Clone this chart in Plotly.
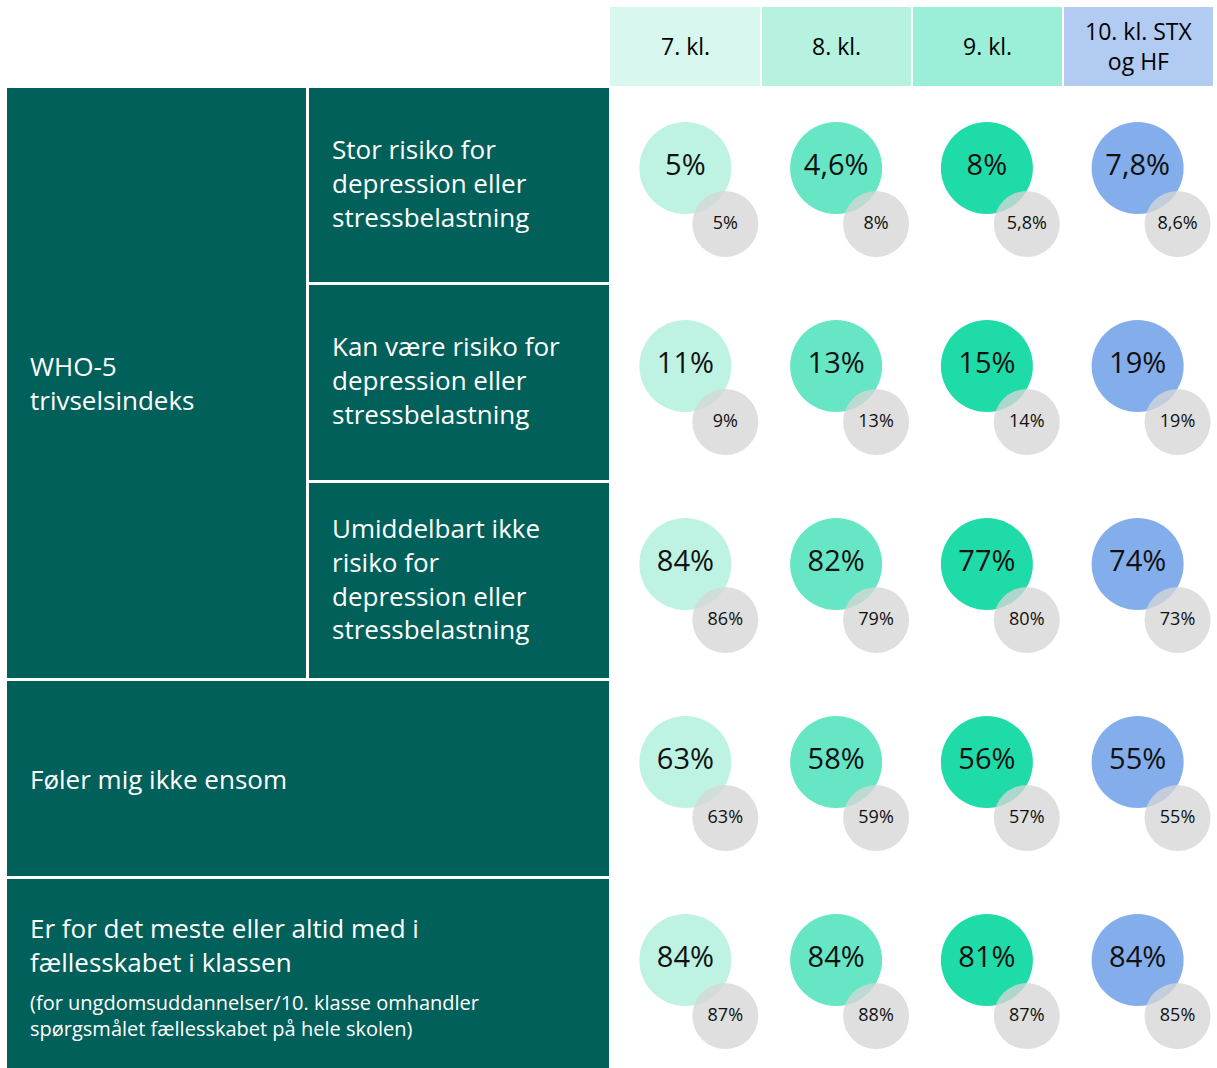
import plotly.graph_objects as go

# ---------- data ----------
grades = ["7. kl.", "8. kl.", "9. kl.", "10. kl. STX<br>og HF"]
row_labels = [
    "Stor risiko for<br>depression eller<br>stressbelastning",
    "Kan være risiko for<br>depression eller<br>stressbelastning",
    "Umiddelbart ikke<br>risiko for<br>depression eller<br>stressbelastning",
    "Føler mig ikke ensom",
    "Er for det meste eller altid med i<br>fællesskabet i klassen",
]
group_label = "WHO-5<br>trivselsindeks"
footnote = "(for ungdomsuddannelser/10. klasse omhandler<br>spørgsmålet fællesskabet på hele skolen)"

# current values (coloured circles), one list per grade column
current = {
    "7. kl.": ["5%", "11%", "84%", "63%", "84%"],
    "8. kl.": ["4,6%", "13%", "82%", "58%", "84%"],
    "9. kl.": ["8%", "15%", "77%", "56%", "81%"],
    "10. kl. STX<br>og HF": ["7,8%", "19%", "74%", "55%", "84%"],
}
# comparison values (grey circles)
previous = {
    "7. kl.": ["5%", "9%", "86%", "63%", "87%"],
    "8. kl.": ["8%", "13%", "79%", "59%", "88%"],
    "9. kl.": ["5,8%", "14%", "80%", "57%", "87%"],
    "10. kl. STX<br>og HF": ["8,6%", "19%", "73%", "55%", "85%"],
}

# ---------- styling ----------
W, H = 1217, 1068
FONT = "Open Sans"
DARK = "#02605A"
header_colors = ["#D8F7EF", "#B7F2E1", "#9BEFD8", "#B2CBF3"]
circle_colors = ["#BEF3E3", "#66E6C4", "#1EDBA8", "#84ADEB"]
GREY = "rgba(214,214,214,0.78)"


def px(x):
    return x / W


def py(y):
    return 1 - y / H


fig = go.Figure()
shapes = []
annotations = []

# header cells
col_edges = [(610, 760), (762, 911), (913, 1062), (1064, 1213)]
for (x0, x1), c, g in zip(col_edges, header_colors, grades):
    shapes.append(dict(type="rect", xref="paper", yref="paper", x0=px(x0), x1=px(x1),
                       y0=py(86), y1=py(7), fillcolor=c, line_width=0, layer="below"))
    annotations.append(dict(xref="paper", yref="paper", x=px((x0 + x1) / 2), y=py(46),
                            text=g, showarrow=False, font=dict(family=FONT, size=23, color="black"),
                            xanchor="center", yanchor="middle"))

# left dark cells
row_edges = [(88, 282), (285, 480), (483, 678), (681, 876), (879, 1068)]
def dark_rect(x0, x1, y0, y1):
    shapes.append(dict(type="rect", xref="paper", yref="paper", x0=px(x0), x1=px(x1),
                       y0=py(y1), y1=py(y0), fillcolor=DARK, line_width=0, layer="below"))

dark_rect(7, 306, 88, 678)
for i in range(3):
    dark_rect(309, 609, row_edges[i][0], row_edges[i][1])
for i in range(3, 5):
    dark_rect(7, 609, row_edges[i][0], row_edges[i][1])

label_font = dict(family=FONT, size=26, color="white")
annotations.append(dict(xref="paper", yref="paper", x=px(28), y=py(383), text=group_label,
                        showarrow=False, font=label_font, xanchor="left", yanchor="middle", align="left"))
for i in range(3):
    y0, y1 = row_edges[i]
    annotations.append(dict(xref="paper", yref="paper", x=px(330), y=py((y0 + y1) / 2 - 2),
                            text=row_labels[i], showarrow=False, font=label_font,
                            xanchor="left", yanchor="middle", align="left"))
annotations.append(dict(xref="paper", yref="paper", x=px(28), y=py(779), text=row_labels[3],
                        showarrow=False, font=label_font, xanchor="left", yanchor="middle", align="left"))
annotations.append(dict(xref="paper", yref="paper", x=px(28), y=py(945), text=row_labels[4],
                        showarrow=False, font=label_font, xanchor="left", yanchor="middle", align="left"))
annotations.append(dict(xref="paper", yref="paper", x=px(28), y=py(1015), text=footnote,
                        showarrow=False, font=dict(family=FONT, size=20, color="white"),
                        xanchor="left", yanchor="middle", align="left"))

# ---------- circles ----------
n_rows = len(row_labels)
dx, dy = 0.265, 0.283  # grey circle offset in axis units
for j, g in enumerate(grades):
    xs = [j] * n_rows
    ys = list(range(n_rows))
    fig.add_trace(go.Scatter(
        x=xs, y=ys, mode="markers+text", text=current[g], textposition="middle center",
        marker=dict(size=92, color=circle_colors[j], line_width=0), cliponaxis=False,
        textfont=dict(family=FONT, size=29, color="#111"), hoverinfo="skip", showlegend=False))
for j, g in enumerate(grades):
    xs = [j + dx] * n_rows
    ys = [i + dy for i in range(n_rows)]
    fig.add_trace(go.Scatter(
        x=xs, y=ys, mode="markers+text", text=previous[g], textposition="middle center",
        marker=dict(size=66, color=GREY, line_width=0), cliponaxis=False,
        textfont=dict(family=FONT, size=18, color="#111"), hoverinfo="skip", showlegend=False))

fig.update_xaxes(domain=[px(610), px(1213)], range=[-0.5, 3.5], visible=False, fixedrange=True)
fig.update_yaxes(domain=[0, py(88)], range=[4.545, -0.404], visible=False, fixedrange=True)

fig.update_layout(
    width=W, height=H, margin=dict(l=0, r=0, t=0, b=0),
    paper_bgcolor="white", plot_bgcolor="rgba(0,0,0,0)",
    shapes=shapes, annotations=annotations, showlegend=False,
)

# drop the default page margin so the figure fills the window exactly
fig.write_html("out.html", config={"displayModeBar": False},
               post_script="document.body.style.margin='0';document.body.style.overflow='hidden';")
